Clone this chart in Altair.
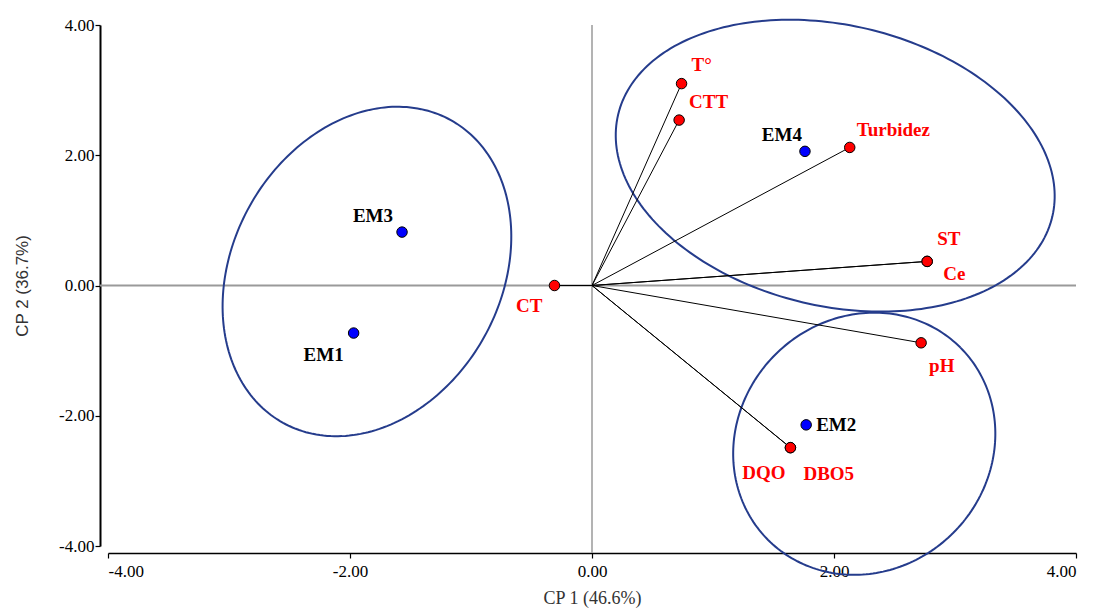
import altair as alt
import pandas as pd
import numpy as np

# ---------------- data ----------------
# Observations (blue points)
obs_names = ["EM1", "EM2", "EM3", "EM4"]
obs_x = [-1.97, 1.77, -1.57, 1.76]
obs_y = [-0.73, -2.14, 0.82, 2.06]

# Variables (red points, loadings) - Ce overlaps ST, DBO5 overlaps DQO
var_names = ["T°", "CTT", "Turbidez", "ST", "Ce", "pH", "DQO", "DBO5", "CT"]
var_x = [0.74, 0.72, 2.13, 2.77, 2.77, 2.72, 1.64, 1.64, -0.31]
var_y = [3.10, 2.54, 2.12, 0.37, 0.37, -0.88, -2.49, -2.49, 0.00]

# Group ellipses: centre (data units), semi-axes (x-axis units), tilt (deg)
ell_cx = [-1.86, 2.01, 2.25]
ell_cy = [0.215, 1.84, -2.43]
ell_a = [1.43, 1.843, 1.124]
ell_b = [1.11, 1.161, 1.041]
ell_angle = [61.0, -13.2, 45.0]

axis_ticks = [-4, -2, 0, 2, 4]
x_title = "CP 1 (46.6%)"
y_title = "CP 2 (36.7%)"

# ---------------- styles ----------------
W, H = 968, 521
ASPECT = (W / 8.0) / (H / 8.0)  # px per x-unit / px per y-unit

LABEL_STYLE = {
    "T°": (10, -19, "left"),
    "CTT": (10, -18, "left"),
    "Turbidez": (7, -17, "left"),
    "ST": (10, -22, "left"),
    "Ce": (16, 13, "left"),
    "pH": (8, 23, "left"),
    "DQO": (-5, 25, "right"),
    "DBO5": (13, 26, "left"),
    "CT": (-12, 20, "right"),
    "EM1": (-10, 22, "right"),
    "EM2": (10, 0, "left"),
    "EM3": (-9, -16, "right"),
    "EM4": (-3, -16, "right"),
}

SERIF = "Liberation Serif"
SANS = "Liberation Sans"

obs_df = pd.DataFrame({"name": obs_names, "x": obs_x, "y": obs_y})
var_df = pd.DataFrame({"name": var_names, "x": var_x, "y": var_y,
                       "x0": [0.0] * len(var_names), "y0": [0.0] * len(var_names)})

rows = []
t = np.linspace(0, 2 * np.pi, 241)
for i in range(len(ell_cx)):
    phi = np.deg2rad(ell_angle[i])
    dx = ell_a[i] * np.cos(t) * np.cos(phi) - ell_b[i] * np.sin(t) * np.sin(phi)
    dy = ell_a[i] * np.cos(t) * np.sin(phi) + ell_b[i] * np.sin(t) * np.cos(phi)
    for k in range(len(t)):
        rows.append({"e": i, "k": k, "x": ell_cx[i] + dx[k], "y": ell_cy[i] + dy[k] * ASPECT})
ell_df = pd.DataFrame(rows)

xs = alt.Scale(domain=[-4, 4], nice=False, zero=False)
ys = alt.Scale(domain=[-4, 4], nice=False, zero=False)

label_expr = "replace(format(datum.value, '.2f'), '\u2212', '-')"

x_axis = alt.Axis(values=axis_ticks, labelExpr=label_expr, offset=7, grid=False,
                  domainColor="black", domainWidth=1.5, tickColor="black", tickWidth=1.2,
                  tickSize=5, labelFont=SERIF, labelFontSize=17, labelColor="black",
                  labelPadding=5, title=x_title, titleFont=SERIF, titleFontSize=18,
                  titleFontWeight="normal", titleColor="#333333", titlePadding=10)
y_axis = alt.Axis(values=axis_ticks, labelExpr=label_expr, offset=8, grid=False,
                  domainColor="black", domainWidth=2, tickColor="black", tickWidth=1.2,
                  tickSize=5, labelFont=SERIF, labelFontSize=17, labelColor="black",
                  labelPadding=1, title=y_title, titleFont=SANS, titleFontSize=17,
                  titleFontWeight="normal", titleColor="#333333", titlePadding=27)


def X(field):
    return alt.X(field, scale=xs, axis=x_axis)


def Y(field):
    return alt.Y(field, scale=ys, axis=y_axis)


vline = alt.Chart(pd.DataFrame({"x": [0.0]})).mark_rule(color="#9a9a9a", strokeWidth=1.5).encode(
    x=X("x:Q"), y=alt.value(0), y2=alt.value(H + 7))
hline = alt.Chart(pd.DataFrame({"y": [0.0]})).mark_rule(color="#9a9a9a", strokeWidth=2).encode(
    y=Y("y:Q"), x=alt.value(-8), x2=alt.value(W))

ellipses = alt.Chart(ell_df).mark_line(color="#253c8c", strokeWidth=2, clip=False).encode(
    x=X("x:Q"), y=Y("y:Q"), detail="e:N", order="k:Q")

loadings = alt.Chart(var_df).mark_rule(color="black", strokeWidth=1).encode(
    x=X("x0:Q"), y=Y("y0:Q"), x2="x:Q", y2="y:Q")

var_pts = alt.Chart(var_df).mark_circle(size=110, color="#ff0000", stroke="black",
                                        strokeWidth=1, opacity=1).encode(
    x=X("x:Q"), y=Y("y:Q"))

obs_pts = alt.Chart(obs_df).mark_circle(size=110, color="#0000ff", stroke="black",
                                        strokeWidth=1, opacity=1).encode(
    x=X("x:Q"), y=Y("y:Q"))

layers = [vline, hline, ellipses, loadings, var_pts, obs_pts]

for name, (ddx, ddy, al) in LABEL_STYLE.items():
    if name in var_names:
        src, col = var_df, "#ff0000"
    else:
        src, col = obs_df, "black"
    txt = alt.Chart(src).transform_filter(alt.datum.name == name).mark_text(
        dx=ddx, dy=ddy, align=al, baseline="middle", font=SERIF, fontSize=19,
        fontWeight="bold", color=col).encode(
        x=X("x:Q"), y=Y("y:Q"), text="name:N")
    layers.append(txt)

chart = alt.layer(*layers).properties(
    width=W, height=H,
    autosize=alt.AutoSizeParams(type="none"),
    padding={"left": 108, "top": 25, "right": 20, "bottom": 62},
    background="white",
).configure_view(stroke=None)

chart.save("out.html", embed_options={"renderer": "svg", "actions": False})
